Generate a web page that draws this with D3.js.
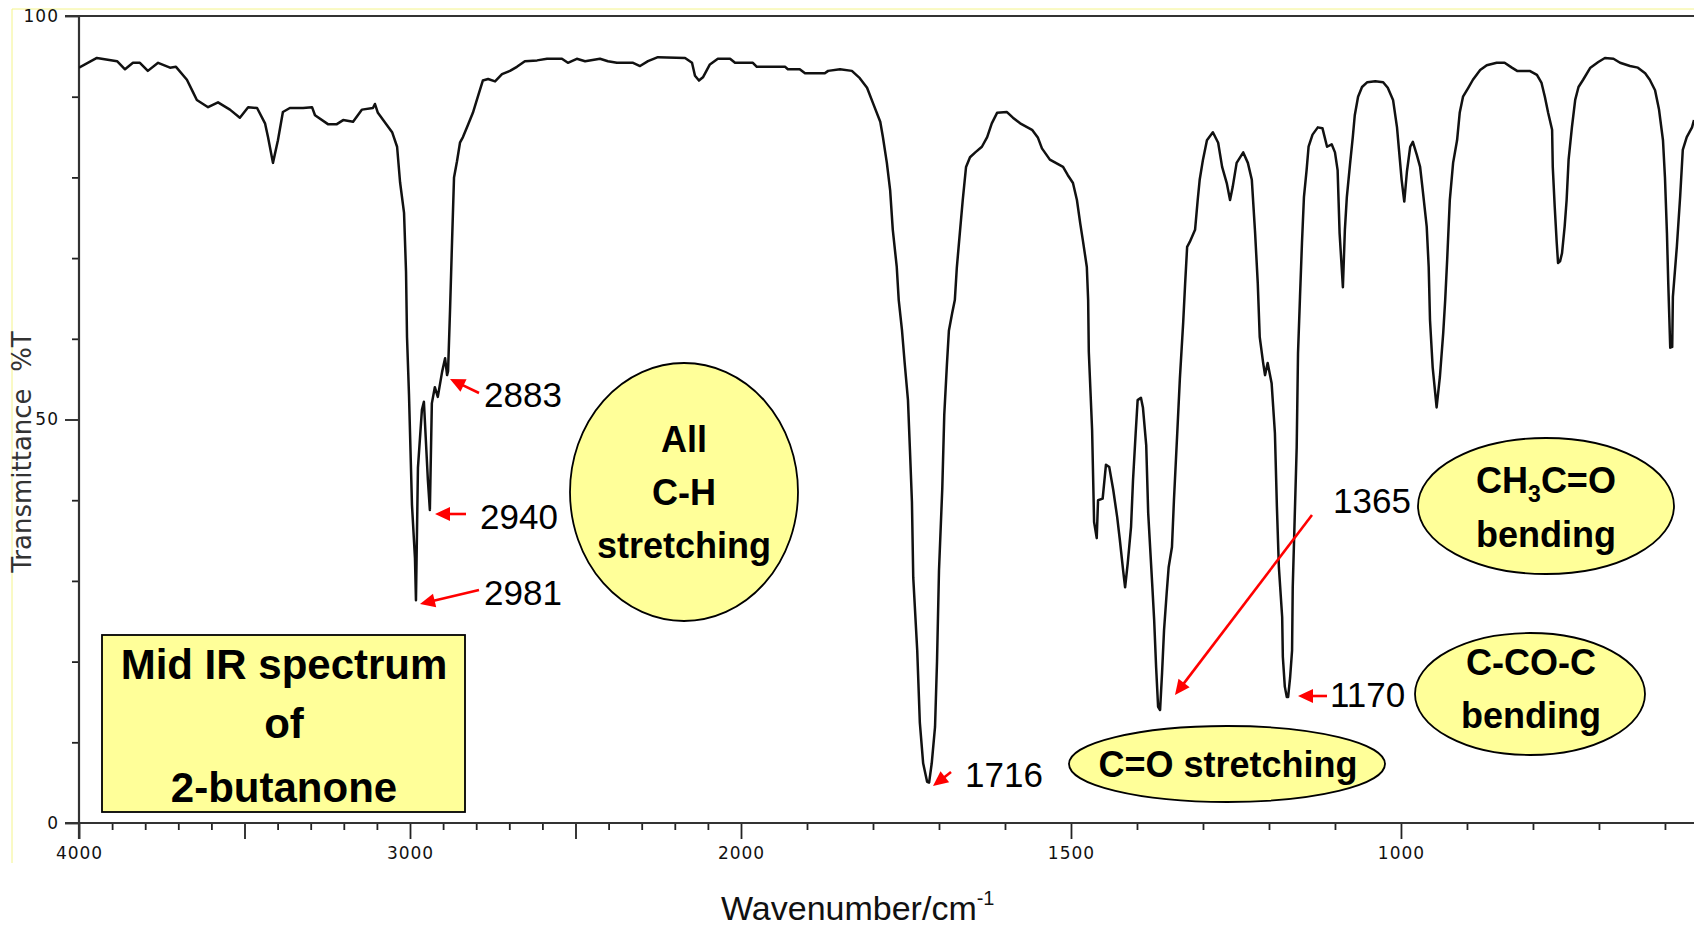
<!DOCTYPE html>
<html><head><meta charset="utf-8">
<script src="https://cdn.jsdelivr.net/npm/d3@7"></script>
<style>
html,body{margin:0;padding:0;background:#fff;}
svg{display:block;}
</style></head><body>
<svg id="chart" width="1694" height="926"></svg>
<script>
// ---- data ----
const wavenumber = [
 4000,3946,3885,3861,3837,3816,3792,3761,3725,3707,
 3674,3656,3644,3610,3580,3544,3514,3489,3462,3438,
 3429,3414,3399,3384,3363,3323,3296,3287,3248,3221,
 3202,3172,3145,3112,3106,3097,3070,3054,3039,3030,
 3018,3012,3009,3003,2994,2985,2982,2976,2964,2958,
 2946,2940,2934,2925,2916,2903,2894,2888,2885,2879,
 2873,2867,2858,2849,2840,2825,2810,2795,2780,2764,
 2743,2722,2698,2677,2653,2616,2586,2541,2523,2496,
 2471,2426,2402,2375,2326,2305,2281,2251,2169,2148,
 2139,2127,2115,2094,2070,2033,2018,1982,1976,1933,
 1929,1911,1903,1873,1868,1850,1832,1820,1809,1800,
 1789,1785,1779,1774,1770,1764,1761,1756,1752,1747,
 1744,1741,1739,1733,1729,1724,1718,1715,1711,1706,
 1703,1700,1695,1692,1688,1685,1680,1676,1673,1668,
 1664,1659,1653,1645,1635,1627,1620,1612,1597,1588,
 1577,1559,1550,1544,1532,1521,1512,1505,1497,1491,
 1486,1482,1476,1474,1473,1468,1465,1461,1459,1452,
 1447,1442,1436,1430,1426,1421,1418,1414,1409,1406,
 1402,1399,1394,1391,1386,1383,1377,1374,1371,1368,
 1365,1362,1359,1355,1352,1347,1344,1339,1335,1330,
 1327,1324,1320,1312,1308,1305,1300,1294,1285,1277,
 1271,1264,1259,1255,1249,1239,1232,1226,1221,1217,
 1214,1209,1206,1202,1196,1191,1188,1185,1180,1179,
 1176,1173,1171,1168,1165,1164,1161,1158,1156,1153,
 1150,1147,1143,1140,1134,1126,1119,1112,1105,1100,
 1096,1093,1088,1085,1082,1077,1073,1070,1065,1059,
 1051,1039,1027,1020,1012,1006,1003,999,995,991,
 986,982,976,971,967,961,958,956,952,946,
 941,936,933,930,926,921,915,911,906,898,
 891,880,870,855,843,832,824,805,794,787,
 782,777,771,770,767,764,762,759,756,752,
 749,746,741,736,731,724,713,701,691,678,
 668,653,641,630,623,615,609,603,600,597,
 595,592,589,588,582,577,573,567,559,556
];
const transmittance = [
 93.6,94.8,94.4,93.4,94.2,94.2,93.2,94.2,93.6,93.7,
 92.1,90.6,89.6,88.7,89.3,88.4,87.4,88.7,88.6,86.7,
 85.0,81.8,84.6,88.1,88.6,88.6,88.7,87.7,86.6,86.6,
 87.1,86.9,88.4,88.6,89.1,88.0,86.5,85.6,83.8,79.4,
 75.6,68.3,60.2,53.0,39.4,32.8,27.6,44.0,51.2,52.2,
 42.5,38.8,52.0,54.0,52.8,55.9,57.6,55.5,56.0,63.6,
 72.0,80.0,82.0,84.3,85.0,86.5,88.0,90.0,92.0,92.2,
 91.9,92.8,93.2,93.7,94.4,94.5,94.7,94.7,94.2,94.7,
 94.4,94.7,94.4,94.2,94.2,93.8,94.4,94.9,94.8,94.2,
 92.6,92.0,92.4,94.0,94.7,94.7,94.2,94.2,93.7,93.7,
 93.4,93.4,92.9,92.9,93.2,93.4,93.2,92.3,91.1,89.2,
 86.9,85.0,81.8,78.4,73.5,68.9,64.8,61.0,57.0,52.4,
 46.2,39.8,30.4,21.4,12.4,7.4,5.1,5.0,7.4,11.9,
 20.0,31.3,41.5,50.6,56.8,61.0,63.2,64.8,68.8,73.5,
 77.2,81.3,82.5,83.1,83.8,85.0,86.7,88.0,88.1,87.4,
 86.7,85.9,84.9,83.6,82.2,81.7,81.3,80.3,79.3,77.2,
 74.3,72.2,68.9,64.8,58.4,48.7,37.3,35.3,40.0,40.2,
 44.4,44.1,41.3,37.9,35.1,31.3,29.2,32.2,36.7,42.5,
 48.3,52.4,52.7,51.5,46.8,38.4,29.7,25.2,19.3,14.4,
 14.0,18.6,23.9,28.5,31.7,34.2,40.0,48.3,55.1,62.0,
 66.9,71.4,72.0,73.5,77.2,79.7,82.2,84.6,85.6,84.3,
 81.3,79.3,77.2,78.8,81.8,83.1,81.8,79.7,73.1,66.9,
 60.2,57.1,55.5,57.0,54.5,48.3,39.2,31.7,25.5,20.6,
 16.9,15.6,15.6,18.0,21.4,29.2,37.9,46.6,58.2,65.2,
 71.9,77.6,80.9,83.8,85.3,86.2,86.1,83.8,84.1,83.1,
 80.9,73.1,66.4,73.5,77.6,81.8,85.0,87.7,90.0,91.2,
 91.8,91.9,91.8,91.1,89.6,86.2,83.4,79.7,77.0,80.7,
 83.8,84.4,82.8,81.3,78.4,73.9,68.9,62.3,56.5,51.5,
 55.3,60.7,64.8,69.8,77.2,81.8,84.6,88.0,90.0,91.1,
 92.1,93.3,93.9,94.2,94.2,93.6,93.2,93.2,92.7,91.7,
 90.0,88.0,85.9,81.3,76.3,71.9,69.4,69.6,70.6,73.9,
 77.2,82.2,86.2,89.6,91.2,92.1,93.6,94.3,94.8,94.7,
 94.2,93.8,93.6,92.9,92.1,90.8,88.4,84.6,80.0,73.1,
 66.9,58.9,59.0,65.2,71.4,77.6,83.4,85.0,86.2,87.1
];
const xDomain = [4000, 2000, 556];
const xMajorTicks = [4000, 3500, 3000, 2500, 2000, 1500, 1000];
const xLabelTicks = [4000, 3000, 2000, 1500, 1000];
const xMinorTicks = [3900,3800,3700,3600,3400,3300,3200,3100,2900,2800,2700,2600,
                     2400,2300,2200,2100,1900,1800,1700,1600,1400,1300,1200,1100,900,800,700,600];
const yMajorTicks = [0, 50, 100];
const yMinorTicks = [10, 20, 30, 40, 60, 70, 80, 90];
const xTitle = "Wavenumber/cm";
const xTitleSup = "-1";
const yTitle = "Transmittance  %T";
const titleLines = ["Mid IR spectrum", "of", "2-butanone"];
const peakLabels = ["2883", "2940", "2981", "1716", "1365", "1170"];
const chLines = ["All", "C-H", "stretching"];
const coLabel = "C=O stretching";
const ccocLines = ["C-CO-C", "bending"];

// ---- layout ----
const svg = d3.select("#chart");
const x = d3.scaleLinear().domain(xDomain).range([79, 741, 1694]);
const y = d3.scaleLinear().domain([0, 100]).range([823, 16]);

// faint yellow frame
svg.append("line").attr("x1", 12).attr("x2", 12).attr("y1", 9).attr("y2", 863)
  .attr("stroke", "#f4f48a").attr("stroke-width", 1);
svg.append("line").attr("x1", 12).attr("x2", 1694).attr("y1", 9).attr("y2", 9)
  .attr("stroke", "#f4f48a").attr("stroke-width", 1);

const tickFont = "'DejaVu Sans', sans-serif";

// x axis ticks
const gx = svg.append("g").attr("transform", "translate(0,823)");
gx.append("g").call(d3.axisBottom(x).tickValues(xMinorTicks).tickSize(7).tickFormat(""))
  .call(g => g.select(".domain").remove());
gx.append("g").call(d3.axisBottom(x).tickValues(xMajorTicks).tickSize(16).tickPadding(8)
    .tickFormat(d => xLabelTicks.includes(d) ? String(d) : ""))
  .call(g => g.select(".domain").remove());
gx.selectAll(".tick line").attr("stroke", "#222").attr("stroke-width", 1.8);
gx.selectAll(".tick text").attr("font-family", tickFont).attr("font-size", 17)
  .attr("fill", "#111").attr("letter-spacing", 1);

// y axis ticks
const gy = svg.append("g").attr("transform", "translate(79,0)");
gy.append("g").call(d3.axisLeft(y).tickValues(yMinorTicks).tickSize(7).tickFormat(""))
  .call(g => g.select(".domain").remove());
gy.append("g").call(d3.axisLeft(y).tickValues(yMajorTicks).tickSize(14).tickPadding(6)
    .tickFormat(d => String(d)))
  .call(g => g.select(".domain").remove());
gy.selectAll(".tick line").attr("stroke", "#222").attr("stroke-width", 1.8);
gy.selectAll(".tick text").attr("font-family", tickFont).attr("font-size", 17)
  .attr("fill", "#111").attr("letter-spacing", 1);

// frame lines
const frame = svg.append("g").attr("stroke", "#333").attr("stroke-width", 2.2);
frame.append("line").attr("x1", 65).attr("x2", 1694).attr("y1", y(0)).attr("y2", y(0));
frame.append("line").attr("x1", 65).attr("x2", 1694).attr("y1", y(100)).attr("y2", y(100));
frame.append("line").attr("x1", x(4000)).attr("x2", x(4000)).attr("y1", y(100)).attr("y2", y(0) + 16);

// spectrum
svg.append("clipPath").attr("id", "plotclip").append("rect")
  .attr("x", 79).attr("y", 16).attr("width", 1694 - 79).attr("height", 823 - 16);
const pts = wavenumber.map((w, i) => [w, transmittance[i]]);
svg.append("path").datum(pts)
  .attr("clip-path", "url(#plotclip)")
  .attr("fill", "none").attr("stroke", "#111").attr("stroke-width", 2.5)
  .attr("stroke-linejoin", "round")
  .attr("d", d3.line().x(d => x(d[0])).y(d => y(d[1])));

// axis titles
svg.append("text").attr("x", 721).attr("y", 920)
  .attr("font-family", "'Liberation Sans', Arial, sans-serif").attr("font-size", 34).attr("fill", "#111")
  .text(xTitle)
  .append("tspan").attr("font-size", 20).attr("dy", -15).text(xTitleSup);

svg.append("text").attr("transform", "translate(31,452) rotate(-90)")
  .attr("text-anchor", "middle").attr("font-family", tickFont).attr("font-size", 26)
  .attr("fill", "#333").attr("xml:space", "preserve").style("white-space", "pre")
  .text(yTitle);

// annotations
const ann = svg.append("g");
const boldFont = "'Liberation Sans', Arial, sans-serif";

function arrow(x1, y1, x2, y2) {
  const dx = x2 - x1, dy = y2 - y1, L = Math.hypot(dx, dy), ux = dx / L, uy = dy / L;
  const hl = Math.min(15, L * 0.8), hw = 7;
  const bx = x2 - ux * hl, by = y2 - uy * hl;
  ann.append("line").attr("x1", x1).attr("y1", y1).attr("x2", bx + ux).attr("y2", by + uy)
    .attr("stroke", "#ff0000").attr("stroke-width", 2.6);
  ann.append("polygon")
    .attr("points", [[x2, y2], [bx - uy * hw, by + ux * hw], [bx + uy * hw, by - ux * hw]].map(p => p.join(",")).join(" "))
    .attr("fill", "#ff0000");
}

function multiline(lines, cx, baselines, size) {
  lines.forEach((t, i) => {
    ann.append("text").attr("x", cx).attr("y", baselines[i]).attr("text-anchor", "middle")
      .attr("font-family", boldFont).attr("font-weight", "bold").attr("font-size", size)
      .attr("fill", "#000").text(t);
  });
}

// title box
ann.append("rect").attr("x", 102).attr("y", 635).attr("width", 363).attr("height", 177)
  .attr("fill", "#ffff99").attr("stroke", "#000").attr("stroke-width", 1.8);
multiline(titleLines, 284, [679, 738, 802], 42);

// ellipses
const ell = (cx, cy, rx, ry) => ann.append("ellipse").attr("cx", cx).attr("cy", cy).attr("rx", rx).attr("ry", ry)
  .attr("fill", "#ffff99").attr("stroke", "#000").attr("stroke-width", 1.8);
ell(684, 492, 114, 129);
multiline(chLines, 684, [452, 505, 558], 36);
ell(1227, 764, 158, 38);
multiline([coLabel], 1228, [777], 36);
ell(1546, 506, 128, 68);
const ch3 = ann.append("text").attr("x", 1546).attr("y", 493).attr("text-anchor", "middle")
  .attr("font-family", boldFont).attr("font-weight", "bold").attr("font-size", 36).attr("fill", "#000");
ch3.append("tspan").text("CH");
ch3.append("tspan").attr("font-size", 23).attr("dy", 9).text("3");
ch3.append("tspan").attr("dy", -9).text("C=O");
multiline(["bending"], 1546, [547], 36);
ell(1530, 694, 115, 61);
multiline(ccocLines, 1531, [675, 728], 36);

// peak numbers and arrows
const numPos = [[484, 407], [480, 529], [484, 605], [965, 787], [1333, 513], [1330, 707]];
peakLabels.forEach((t, i) => {
  ann.append("text").attr("x", numPos[i][0]).attr("y", numPos[i][1])
    .attr("font-family", boldFont).attr("font-size", 35).attr("fill", "#000").text(t);
});
arrow(479, 393, 450, 379);
arrow(466, 514, 435, 514);
arrow(479, 590, 420, 604);
arrow(951, 772, 933, 786);
arrow(1312, 515, 1175, 695);
arrow(1327, 696, 1298, 696);
</script>
</body></html>
